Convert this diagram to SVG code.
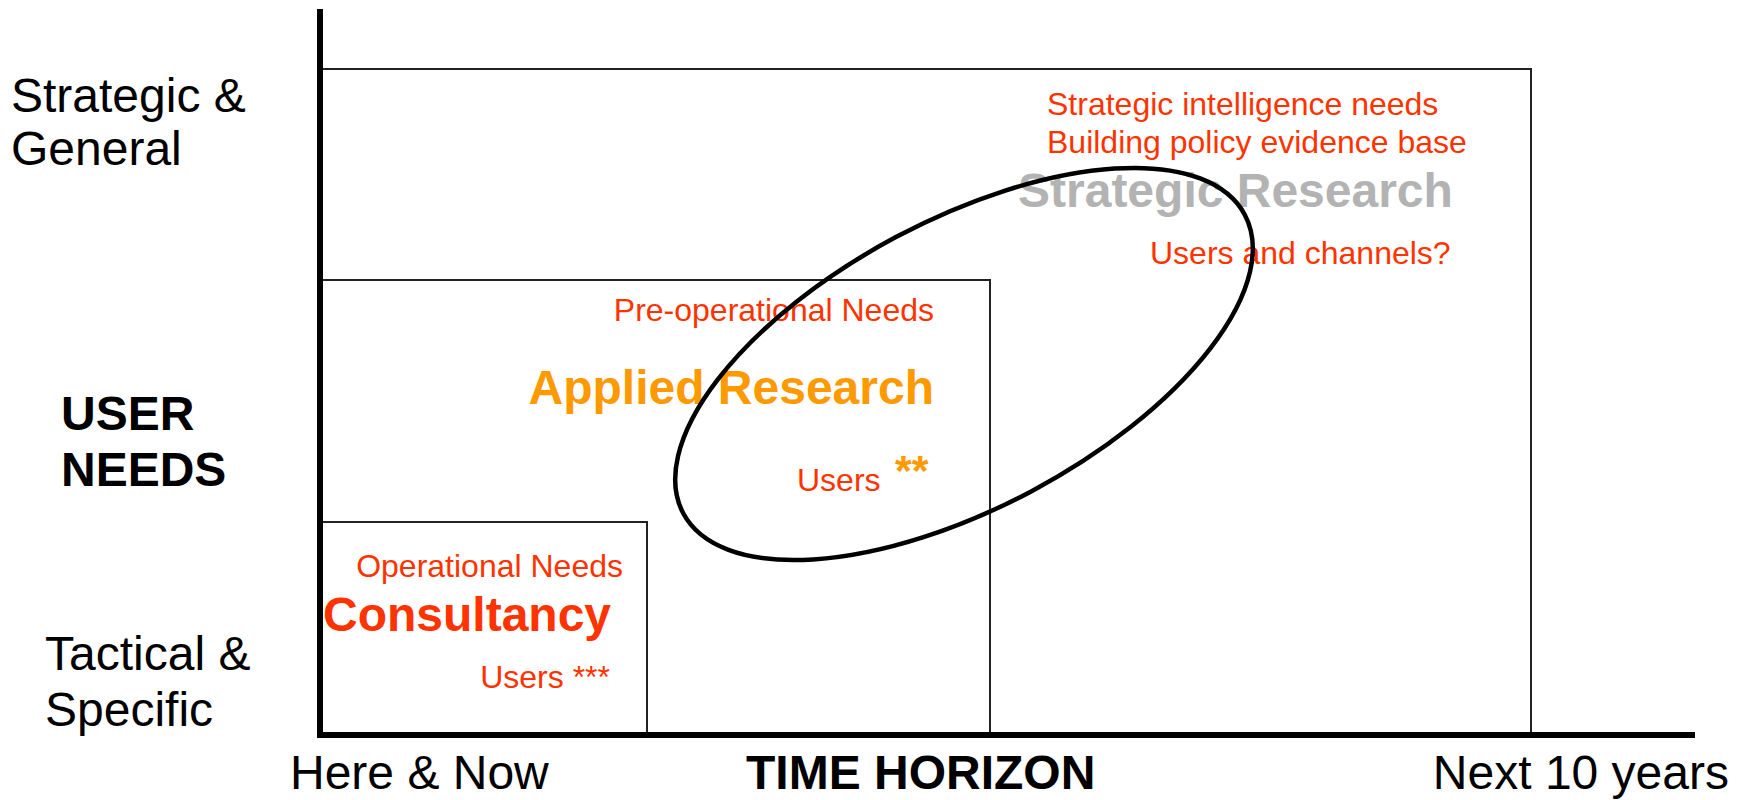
<svg xmlns="http://www.w3.org/2000/svg" width="1751" height="800" viewBox="0 0 1751 800">
<style>
text{font-family:"Liberation Sans",Arial,sans-serif}
.lbl{font-size:48px;fill:#000}
.b{font-weight:bold}
.red{fill:#FF3300;font-size:32px}
.box{fill:none;stroke:#222;stroke-width:2}
.axis{stroke:#000;stroke-width:6;fill:none}
</style>
<rect width="1751" height="800" fill="#fff"/>
<g id="strategic-box">
<rect class="box" x="321" y="69" width="1210" height="666"/>
<text class="red" x="1047" y="115">Strategic intelligence needs</text>
<text class="red" x="1047" y="153">Building policy evidence base</text>
<text class="b" x="1018" y="207" font-size="48" fill="#B3B3B3">Strategic Research</text>
<text class="red" x="1150" y="264">Users and channels?</text>
</g>
<g id="applied-box">
<rect class="box" x="321" y="280" width="669" height="455"/>
<text class="red" x="934" y="321" text-anchor="end">Pre-operational Needs</text>
<text class="b" x="934" y="404" font-size="48" fill="#FF9900" text-anchor="end">Applied Research</text>
<text class="red" x="797" y="491">Users</text>
<text class="b" x="895" y="485" font-size="43" fill="#FF9900">**</text>
</g>
<g id="consultancy-box">
<rect class="box" x="321" y="522" width="326" height="213"/>
<text class="red" x="623" y="577" text-anchor="end">Operational Needs</text>
<text class="b" x="323" y="631" font-size="48" fill="#FF3300">Consultancy</text>
<text class="red" x="610" y="688" text-anchor="end">Users ***</text>
</g>
<g id="ellipse">
<ellipse cx="964" cy="364" rx="318" ry="144" transform="rotate(-28 964 364)" fill="none" stroke="#000" stroke-width="4.5"/>
</g>
<g id="axes">
<line class="axis" x1="320" y1="9" x2="320" y2="738"/>
<line class="axis" x1="317" y1="735" x2="1695" y2="735"/>
</g>
<g id="labels">
<text class="lbl" x="11" y="112">Strategic &amp;</text>
<text class="lbl" x="11" y="165">General</text>
<text class="lbl b" x="61" y="430">USER</text>
<text class="lbl b" x="61" y="486">NEEDS</text>
<text class="lbl" x="45" y="670">Tactical &amp;</text>
<text class="lbl" x="45" y="726">Specific</text>
<text class="lbl" x="290" y="789">Here &amp; Now</text>
<text class="lbl b" x="746" y="789">TIME HORIZON</text>
<text class="lbl" x="1729" y="789" text-anchor="end">Next 10 years</text>
</g>
</svg>
